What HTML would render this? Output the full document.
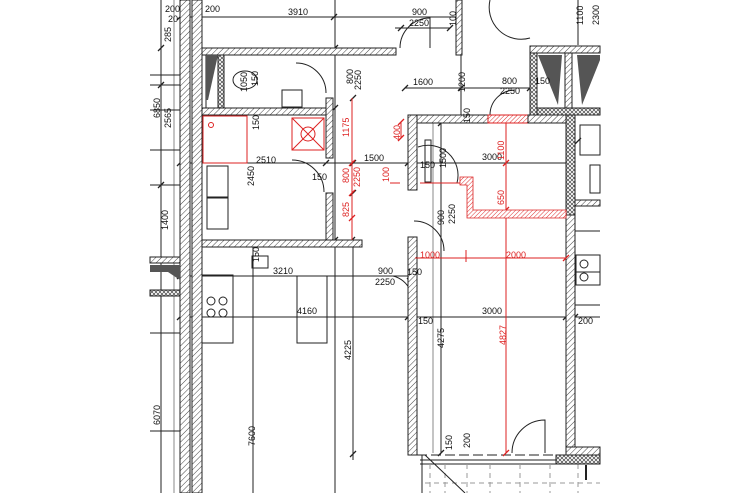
<!DOCTYPE html>
<html><head><meta charset="utf-8"><style>
html,body{margin:0;padding:0;background:#fff}
svg{display:block}
text{font-family:"Liberation Sans",sans-serif;font-size:9px;fill:#111}
.r{fill:#d22}
</style></head><body>
<svg width="740" height="493" viewBox="0 0 740 493" xmlns="http://www.w3.org/2000/svg">
<defs>
<pattern id="h" width="4" height="4" patternUnits="userSpaceOnUse" patternTransform="rotate(45)"><rect width="4" height="4" fill="#fff"/><line x1="0" y1="0" x2="0" y2="4" stroke="#444" stroke-width="1"/></pattern>
<pattern id="hr" width="3" height="3" patternUnits="userSpaceOnUse" patternTransform="rotate(45)"><rect width="3" height="3" fill="#fff"/><line x1="0" y1="0" x2="0" y2="3" stroke="#d33" stroke-width="1"/></pattern>
<pattern id="x" width="4" height="4" patternUnits="userSpaceOnUse"><rect width="4" height="4" fill="#fff"/><path d="M0 0L4 4M4 0L0 4" stroke="#444" stroke-width=".7"/></pattern>
</defs>
<g stroke="#222" stroke-width="1" fill="none">
<line x1="161" y1="0" x2="161" y2="493"/>
<line x1="174" y1="0" x2="174" y2="493" stroke="#888"/>
<line x1="335" y1="0" x2="335" y2="493"/>
<line x1="253" y1="240" x2="253" y2="493"/>
<line x1="353" y1="240" x2="353" y2="460"/>
<line x1="461" y1="0" x2="461" y2="118"/>
<line x1="441" y1="123" x2="441" y2="453"/>
<line x1="433" y1="123" x2="433" y2="453" stroke="#888"/>
<line x1="180" y1="17" x2="460" y2="17"/>
<line x1="395" y1="28" x2="450" y2="28"/>
<line x1="405" y1="88" x2="535" y2="88"/>
<line x1="180" y1="163" x2="575" y2="163"/>
<line x1="180" y1="276" x2="410" y2="276"/>
<line x1="180" y1="317" x2="600" y2="317"/>
<line x1="578" y1="0" x2="578" y2="45"/>
<line x1="150" y1="75" x2="180" y2="75"/>
<line x1="150" y1="85" x2="180" y2="85"/>
<line x1="150" y1="110" x2="180" y2="110"/>
<line x1="150" y1="150" x2="180" y2="150"/>
<line x1="150" y1="185" x2="180" y2="185"/>
<line x1="150" y1="333" x2="180" y2="333"/>
<line x1="150" y1="431" x2="180" y2="431"/>
<line x1="575" y1="231" x2="600" y2="231"/>
<line x1="575" y1="272" x2="600" y2="272"/>
<line x1="575" y1="305" x2="600" y2="305"/>
<!-- ticks -->
<g stroke-width="1.3">
<path d="M177 20l6-6M331 20l6-6M398 31l6-6M447 31l6-6M332 51l6-6M332 111l6-6M332 243l6-6M349 243l6-6M177 166l6-6M323 166l6-6M405 166l6-6M458 91l6-6M402 91l6-6M527 91l6-6M350 101l6-6M350 166l6-6M350 196l6-6M158 51l6-6M158 88l6-6M158 188l6-6M177 279l6-6M407 279l6-6M177 320l6-6M405 320l6-6M563 320l6-6M572 320l6-6M438 126l6-6M438 456l6-6M350 457l6-6M575 144l6-6"/>
</g>
<rect x="206" y="55" width="12" height="53"/>
<rect x="207" y="166" width="21" height="31"/>
<rect x="207" y="198" width="21" height="31"/>
<rect x="282" y="90" width="20" height="17"/>
<ellipse cx="245" cy="80" rx="12" ry="9"/>
<rect x="252" y="256" width="16" height="12"/>
<rect x="200" y="275" width="33" height="68"/>
<circle cx="211" cy="301" r="4"/><circle cx="223" cy="301" r="4"/><circle cx="211" cy="313" r="4"/><circle cx="223" cy="313" r="4"/>
<rect x="297" y="276" width="30" height="67"/>
<rect x="576" y="255" width="24" height="30"/>
<circle cx="584" cy="264" r="4"/><circle cx="584" cy="277" r="4"/>
<rect x="580" y="125" width="20" height="30"/>
<rect x="590" y="165" width="10" height="28"/>
<path d="M296 63 A30 30 0 0 1 326 93"/>
<path d="M292 160 A32 32 0 0 1 324 192"/>
<path d="M400 48 A30 30 0 0 1 430 18 L430 48"/>
<path d="M490 0 A32 32 0 0 0 530 38"/>
<path d="M490 115 A25 25 0 0 1 515 90"/>
<path d="M418 147 A30 30 0 0 1 457 183"/>
<path d="M393 276 A25 25 0 0 1 410 290 L410 276"/>
<path d="M414 221 A30 30 0 0 1 444 251"/>
<path d="M512 453 A33 33 0 0 1 545 420 L545 453"/>
<rect x="425" y="140" width="6" height="42"/>
<line x1="417" y1="455" x2="600" y2="455" stroke-dasharray="10 4"/>
<line x1="420" y1="460" x2="600" y2="460"/>
<line x1="420" y1="464" x2="600" y2="464"/>
<g stroke="#999" stroke-dasharray="5 4">
<line x1="430" y1="464" x2="430" y2="493"/><line x1="445" y1="464" x2="445" y2="493"/><line x1="467" y1="464" x2="467" y2="493"/><line x1="490" y1="464" x2="490" y2="493"/><line x1="520" y1="464" x2="520" y2="493"/><line x1="550" y1="464" x2="550" y2="493"/><line x1="578" y1="464" x2="578" y2="493"/>
<line x1="425" y1="483" x2="600" y2="483"/>
</g>
<line x1="425" y1="455" x2="465" y2="493"/>
<line x1="422" y1="455" x2="422" y2="493"/>
<line x1="586" y1="465" x2="586" y2="480" stroke-width="2"/>
</g>
<g stroke="#222" stroke-width="1">
<rect x="180" y="0" width="10" height="493" fill="url(#h)"/>
<rect x="192" y="0" width="10" height="493" fill="url(#h)"/>
<rect x="202" y="48" width="194" height="7" fill="url(#h)"/>
<rect x="456" y="0" width="6" height="55" fill="url(#h)"/>
<rect x="202" y="108" width="124" height="7" fill="url(#h)"/>
<rect x="218" y="55" width="6" height="53" fill="url(#x)"/>
<rect x="326" y="98" width="7" height="60" fill="url(#h)"/>
<rect x="326" y="193" width="7" height="47" fill="url(#h)"/>
<rect x="202" y="240" width="160" height="7" fill="url(#h)"/>
<rect x="408" y="115" width="80" height="8" fill="url(#h)"/>
<rect x="488" y="115" width="40" height="8" fill="url(#hr)" stroke="#d22"/>
<rect x="528" y="115" width="47" height="8" fill="url(#h)"/>
<rect x="408" y="115" width="9" height="75" fill="url(#h)"/>
<rect x="408" y="237" width="9" height="218" fill="url(#h)"/>
<rect x="566" y="115" width="9" height="100" fill="url(#x)"/>
<rect x="566" y="215" width="9" height="240" fill="url(#h)"/>
<rect x="566" y="447" width="34" height="8" fill="url(#h)"/>
<rect x="556" y="455" width="44" height="9" fill="url(#x)"/>
<rect x="530" y="46" width="70" height="7" fill="url(#h)"/>
<rect x="530" y="53" width="7" height="62" fill="url(#x)"/>
<rect x="537" y="108" width="63" height="7" fill="url(#x)"/>
<rect x="565" y="53" width="7" height="55" fill="url(#h)"/>
<rect x="575" y="200" width="25" height="6" fill="url(#h)"/>
<rect x="150" y="257" width="30" height="6" fill="url(#h)"/>
<rect x="150" y="290" width="30" height="6" fill="url(#x)"/>
</g>
<g fill="#555">
<path d="M538 55 L562 55 L558 105 Z"/>
<path d="M577 55 L600 55 L600 60 L582 105 Z"/>
<path d="M206 55 L218 55 L208 100 L206 100 Z"/>
<path d="M150 265 L180 265 L180 280 L168 272 L150 272 Z"/>
</g>
<g stroke="#d22" stroke-width="1" fill="none">
<rect x="203" y="116" width="44" height="47"/>
<circle cx="211" cy="125" r="2.5"/>
<rect x="292" y="118" width="32" height="32"/>
<path d="M292 118 L324 150 M324 118 L292 150"/><circle cx="308" cy="134" r="7"/>
<line x1="352" y1="98" x2="352" y2="240"/>
<line x1="401" y1="122" x2="401" y2="138"/>
<line x1="390" y1="183" x2="400" y2="183"/>
<line x1="420" y1="183" x2="460" y2="183"/>
<line x1="506" y1="123" x2="506" y2="453"/>
<line x1="415" y1="258" x2="566" y2="258"/>
<line x1="466" y1="250" x2="466" y2="262"/>
<path d="M349 166l6-6M349 196l6-6M349 221l6-6M398 141l6-6M398 125l6-6M503 166l6-6M503 213l6-6M503 456l6-6M563 261l6-6" stroke-width="1.3"/>
</g>
<path d="M460 177 L473 177 L473 210 L566 210 L566 218 L467 218 L467 185 L460 185 Z" fill="url(#hr)" stroke="#d22" stroke-width=".8"/>
<text x="165" y="12">200</text><text x="168" y="22">20</text><text x="205" y="12">200</text>
<text x="288" y="15">3910</text><text x="412" y="15">900</text><text x="409" y="26">2250</text>
<text x="256" y="163">2510</text><text x="364" y="161">1500</text><text x="420" y="168">150</text><text x="482" y="160">3000</text>
<text x="312" y="180">150</text>
<text x="413" y="85">1600</text><text x="502" y="84">800</text><text x="500" y="94">2250</text><text x="535" y="84">150</text>
<text class="r" x="420" y="258">1000</text><text class="r" x="506" y="258">2000</text>
<text x="273" y="274">3210</text><text x="378" y="274">900</text><text x="375" y="285">2250</text><text x="407" y="275">150</text>
<text x="297" y="314">4160</text><text x="482" y="314">3000</text><text x="418" y="324">150</text><text x="578" y="324">200</text>
<g transform="rotate(-90)">
<text x="-42" y="171">285</text>
<text x="-86" y="258">150</text>
<text x="-92" y="247">1050</text>
<text x="-84" y="353">800</text><text x="-90" y="361">2250</text>
<text x="-92" y="465">1200</text>
<text x="-26" y="456">100</text>
<text x="-25" y="583">1100</text><text x="-25" y="599">2300</text>
<text x="-118" y="160">6850</text><text x="-128" y="171">2565</text>
<text x="-130" y="259">150</text>
<text x="-186" y="254">2450</text>
<text x="-230" y="168">1400</text>
<text x="-425" y="160">6070</text>
<text x="-123" y="470">150</text>
<text x="-168" y="446">1500</text>
<text x="-225" y="444">900</text><text x="-224" y="455">2250</text>
<text x="-262" y="259">150</text>
<text x="-360" y="351">4225</text>
<text x="-348" y="444">4275</text>
<text x="-446" y="255">7600</text>
<text x="-450" y="452">150</text><text x="-448" y="470">200</text>
<text class="r" x="-137" y="349">1175</text>
<text class="r" x="-140" y="400">400</text>
<text class="r" x="-183" y="349">800</text><text class="r" x="-187" y="360">2250</text>
<text class="r" x="-182" y="389">100</text>
<text class="r" x="-217" y="349">825</text>
<text class="r" x="-160" y="504">1100</text>
<text class="r" x="-205" y="504">650</text>
<text class="r" x="-345" y="506">4827</text>
</g>
</svg>
</body></html>
